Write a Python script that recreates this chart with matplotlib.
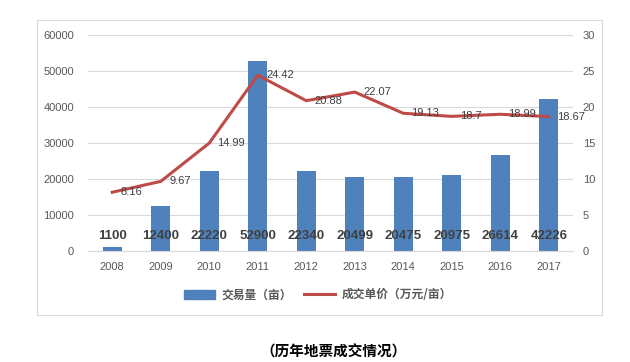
import matplotlib.pyplot as plt
from matplotlib.patches import Rectangle

plt.rcParams['font.family'] = ['Liberation Sans', 'Noto Sans CJK SC', 'DejaVu Sans']

years = ['2008', '2009', '2010', '2011', '2012', '2013', '2014', '2015', '2016', '2017']
volume = [1100, 12400, 22220, 52900, 22340, 20499, 20475, 20975, 26614, 42226]
price = [8.16, 9.67, 14.99, 24.42, 20.88, 22.07, 19.13, 18.7, 18.99, 18.67]

bar_color = '#4F81BD'
line_color = '#BE4B48'
grey = '#595959'

fig = plt.figure(figsize=(6.3, 3.62), dpi=100)
fig.patches.append(Rectangle((37 / 630, 1 - 315 / 362), 565 / 630, 295 / 362,
                             transform=fig.transFigure, fill=False,
                             edgecolor='#D9D9D9', linewidth=0.8))

ax = fig.add_axes([88 / 630, 1 - 251 / 362, 485 / 630, 216 / 362])
ax2 = ax.twinx()
ax.set_zorder(ax2.get_zorder() - 1)
ax.patch.set_visible(True)
ax2.patch.set_visible(False)

x = range(len(years))
ax.bar(x, volume, width=0.4, color=bar_color, zorder=2)
ax.set_ylim(0, 60000)
ax.set_xlim(-0.5, len(years) - 0.5)
ax.set_yticks(range(0, 60001, 10000))
ax.grid(axis='y', color='#D9D9D9', linewidth=0.8, zorder=0)
ax.set_xticks(list(x))
ax.set_xticklabels(years)

for xi, v in zip(x, volume):
    ax.text(xi, 4200, str(v), ha='center', va='center', fontsize=9.5,
            fontweight='bold', color='#404040', zorder=3)

ax2.plot(list(x), price, color=line_color, linewidth=2.2)
ax2.set_ylim(0, 30)
ax2.set_yticks(range(0, 31, 5))
for xi, p in zip(x, price):
    ax2.annotate(f'{p:g}', (xi, p), xytext=(6, 0), textcoords='offset points',
                 ha='left', va='center', fontsize=8, color='#404040')

for a in (ax, ax2):
    for s in a.spines.values():
        s.set_visible(False)
    a.tick_params(length=0, labelsize=8, labelcolor=grey)
ax.spines['bottom'].set_visible(True)
ax.spines['bottom'].set_color('#D9D9D9')
ax.tick_params(axis='x', pad=8)
ax.tick_params(axis='y', pad=10)
ax2.tick_params(axis='y', pad=7)

handles = [Rectangle((0, 0), 1, 1, color=bar_color),
           plt.Line2D([0], [0], color=line_color, linewidth=2.2)]
fig.legend(handles, ['交易量（亩）', '成交单价（万元/亩）'], loc='center',
           bbox_to_anchor=(318 / 630, 1 - 295 / 362), ncol=2, frameon=False,
           prop={'family': ['Noto Sans CJK SC'], 'size': 8.5, 'weight': 'bold'},
           labelcolor=grey, handlelength=2.6, handleheight=0.9, columnspacing=1.0,
           handletextpad=0.6)

fig.text(334 / 630, 1 - 352 / 362, '（历年地票成交情况）', ha='center', va='center',
         fontsize=10.5, fontweight='bold', family=['Noto Sans CJK SC'])

fig.savefig('out.png', dpi=100)
